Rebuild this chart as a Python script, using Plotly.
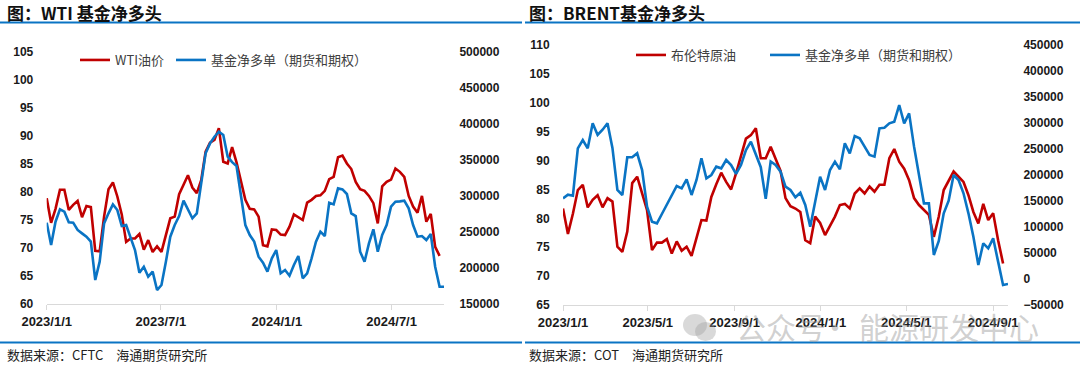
import pandas as pd
import plotly.graph_objects as go

# ---------------- data ----------------
dates = pd.date_range("2023-01-01", periods=91, freq="7D")

wti_price = [78.9, 74.5, 77.0, 80.4, 80.4, 76.8, 77.7, 78.4, 75.5, 77.5,
             77.3, 69.5, 69.4, 75.6, 80.5, 81.7, 79.2, 76.0, 71.1, 71.7,
             71.7, 72.5, 69.7, 71.4, 69.3, 70.3, 69.3, 72.3, 75.3, 75.6,
             79.6, 81.3, 83.0, 80.8, 79.8, 82.1, 87.2, 88.8, 89.3, 91.4,
             85.4, 85.1, 88.0, 85.3, 81.8, 78.6, 77.0, 76.9, 75.6, 70.5,
             70.3, 73.3, 73.2, 72.4, 72.3, 73.8, 76.0, 75.5, 75.0, 78.1,
             78.6, 79.3, 79.4, 80.2, 82.3, 82.7, 86.2, 86.5, 85.1, 84.1,
             81.8, 80.5, 80.2, 79.3, 78.0, 74.4, 81.0, 81.8, 82.2, 84.2,
             83.6, 82.7, 79.3, 77.4, 76.3, 79.3, 74.7, 76.1, 70.2, 68.6, None]

wti_net_long = [263000, 232000, 264300, 281500, 278200, 263400, 263000, 252800, 248100, 243500,
                236600, 183300, 208800, 262000, 275900, 288400, 280500, 258300, 259700, 243500,
                225000, 193500, 201800, 187900, 194900, 169400, 176400, 208800, 243500, 259700,
                272200, 293500, 280500, 269000, 275900, 317600, 359300, 373100, 382400, 389300,
                384700, 354600, 347000, 341700, 299100, 259700, 245800, 236600, 215700, 207400,
                194900, 213400, 225000, 192600, 197200, 189300, 204100, 216600, 185600, 192600,
                213400, 236600, 250500, 244400, 290700, 288400, 310600, 309200, 302800, 275900,
                272200, 222700, 208800, 234200, 253700, 222700, 245800, 259700, 285200, 292100,
                292500, 293500, 282900, 259700, 243500, 244400, 238900, 247200, 201800, 174000, 174000]

brent_price = [81.7, 77.3, 80.8, 84.9, 85.8, 81.9, 83.2, 84.0, 81.9, 83.5,
               82.9, 75.1, 74.2, 77.7, 86.1, 87.2, 84.3, 81.4, 74.5, 75.8,
               75.8, 76.4, 73.9, 76.0, 74.4, 75.1, 73.5, 76.5, 79.7, 79.6,
               83.7, 85.9, 87.9, 86.3, 85.0, 87.8, 91.0, 93.8, 94.4, 95.6,
               90.4, 90.4, 92.4, 90.4, 88.2, 83.5, 82.1, 81.7, 81.1, 76.2,
               75.7, 80.3, 79.2, 77.1, 78.6, 80.3, 82.3, 82.5, 81.7, 84.3,
               85.2, 84.3, 85.5, 84.6, 85.8, 85.8, 90.4, 92.0, 89.8, 88.6,
               86.6, 83.5, 82.3, 81.4, 80.6, 76.8, 80.3, 84.9, 86.6, 88.1,
               87.2, 86.3, 84.0, 81.1, 79.1, 82.5, 79.7, 80.9, 76.2, 72.2, None]

brent_net_long = [155100, 162000, 160000, 251300, 267300, 251300, 299400, 276900, 287000, 299400,
                  252000, 171200, 161600, 234000, 234000, 241700, 209600, 139100, 110300, 107100,
                  125000, 142300, 160000, 178900, 174400, 191700, 161600, 190400, 232100, 193600,
                  200000, 216000, 212800, 228900, 219200, 202000, 219200, 248100, 264100, 240000,
                  215000, 154000, 226000, 219200, 206400, 177600, 171200, 157100, 166000, 142300,
                  100700, 148700, 196800, 171200, 209600, 225700, 210900, 260900, 241700, 275000,
                  270500, 254500, 238500, 235300, 289800, 291000, 299400, 302600, 334600, 299400,
                  318600, 254500, 203200, 145500, 145500, 46200, 73000, 126300, 150700, 200000,
                  190400, 164800, 126300, 81400, 27000, 68600, 59000, 78200, 33400, -11500, -9600]

wti_ticks = ["2023-01-01", "2023-07-01", "2024-01-01", "2024-07-01"]
wti_ticktext = ["2023/1/1", "2023/7/1", "2024/1/1", "2024/7/1"]
brent_ticks = ["2023-01-01", "2023-05-01", "2023-09-01", "2024-01-01", "2024-05-01", "2024-09-01"]
brent_ticktext = ["2023/1/1", "2023/5/1", "2023/9/1", "2024/1/1", "2024/5/1", "2024/9/1"]

# ---------------- styling ----------------
W, H = 1080, 368
RED = "#C00000"
BLUE = "#0A74C4"
NUM_FONT = "Liberation Sans, Noto Sans CJK SC, sans-serif"
CJK_FONT = "Noto Sans CJK SC, Liberation Sans, sans-serif"

def px(x):
    return x / W

def py(y):
    return 1 - y / H

fig = go.Figure()

fig.add_trace(go.Scatter(x=dates, y=wti_price, name="WTI油价", mode="lines",
                         line=dict(color=RED, width=2.6), xaxis="x", yaxis="y",
                         legend="legend", showlegend=True))
fig.add_trace(go.Scatter(x=dates, y=wti_net_long, name="基金净多单（期货和期权）", mode="lines",
                         line=dict(color=BLUE, width=2.6), xaxis="x", yaxis="y2",
                         legend="legend2", showlegend=True))
fig.add_trace(go.Scatter(x=dates, y=brent_price, name="布伦特原油", mode="lines",
                         line=dict(color=RED, width=2.6), xaxis="x2", yaxis="y3",
                         legend="legend3", showlegend=True))
fig.add_trace(go.Scatter(x=dates, y=brent_net_long, name="基金净多单（期货和期权）", mode="lines",
                         line=dict(color=BLUE, width=2.6), xaxis="x2", yaxis="y4",
                         legend="legend4", showlegend=True))

tickfont = dict(family=NUM_FONT, size=12, color="#1a1a1a", weight="bold")
xtickfont = dict(family=NUM_FONT, size=13, color="#1a1a1a", weight="bold")

x_common = dict(type="date", showgrid=False, zeroline=False, showline=True, automargin=False,
                linecolor="#D9D9D9", linewidth=1, ticks="outside", tickcolor="#D9D9D9",
                ticklen=5, tickfont=xtickfont, range=["2023-01-01", "2024-09-22"])
yl_common = dict(showgrid=False, zeroline=False, showline=False, ticks="outside", automargin=False,
                 tickcolor="rgba(0,0,0,0)", ticklen=10, tickfont=tickfont)
yr_common = dict(showgrid=False, zeroline=False, showline=False, ticks="outside", automargin=False,
                 tickcolor="rgba(0,0,0,0)", ticklen=12, tickfont=tickfont)

wti_dom_y = [py(304), py(52)]
brent_dom_y = [py(305), py(45)]

fig.update_layout(
    width=W, height=H,
    margin=dict(l=0, r=0, t=0, b=0, pad=0, autoexpand=False),
    showlegend=True,
    paper_bgcolor="white", plot_bgcolor="white",
    xaxis=dict(domain=[px(46.7), px(444)], anchor="y", tickvals=wti_ticks,
               ticktext=wti_ticktext, **x_common),
    yaxis=dict(domain=wti_dom_y, anchor="x", range=[60, 105], dtick=5, **yl_common),
    yaxis2=dict(domain=wti_dom_y, anchor="x", overlaying="y", side="right",
                range=[150000, 500000], dtick=50000, tickformat="d", **yr_common),
    xaxis2=dict(domain=[px(563), px(1008)], anchor="y3", tickvals=brent_ticks,
                ticktext=brent_ticktext, **x_common),
    yaxis3=dict(domain=brent_dom_y, anchor="x2", range=[65, 110], dtick=5, **yl_common),
    yaxis4=dict(domain=brent_dom_y, anchor="x2", overlaying="y3", side="right",
                range=[-50000, 450000], dtick=50000, tickformat="d", **yr_common),
)

legend_font = dict(family=CJK_FONT, size=13, color="#404040")
def leg(xpix, ypix):
    return dict(x=px(xpix), y=py(ypix), xanchor="left", yanchor="middle", visible=True,
                orientation="h", bgcolor="rgba(0,0,0,0)", borderwidth=0,
                font=legend_font)

fig.update_layout(
    legend=leg(75, 60), legend2=leg(171, 60),
    legend3=leg(631, 55), legend4=leg(765, 55),
)

# separator lines
shapes = []
for x0, x1 in [(0, 522), (525, 1080)]:
    shapes.append(dict(type="line", xref="paper", yref="paper", x0=px(x0), x1=px(x1),
                       y0=py(22.5), y1=py(22.5), line=dict(color=BLUE, width=2.2)))
    shapes.append(dict(type="line", xref="paper", yref="paper", x0=px(x0), x1=px(x1),
                       y0=py(342.5), y1=py(342.5), line=dict(color=BLUE, width=2.2)))
# watermark icon
shapes.append(dict(type="circle", xref="paper", yref="paper", x0=px(683), x1=px(707),
                   y0=py(336), y1=py(314), fillcolor="rgba(160,160,160,0.4)", line=dict(width=0)))
shapes.append(dict(type="circle", xref="paper", yref="paper", x0=px(695), x1=px(716),
                   y0=py(341), y1=py(322), fillcolor="rgba(160,160,160,0.4)", line=dict(width=0)))
fig.update_layout(shapes=shapes)

title_font = dict(family=CJK_FONT, size=17, color="#111111", weight="bold")
src_font = dict(family=CJK_FONT, size=13, color="#222222")
wm_font = dict(family=CJK_FONT, size=30, color="rgba(150,150,150,0.45)")
annotations = [
    dict(text="图：WTI 基金净多头", x=px(5), y=py(13), xanchor="left", yanchor="middle",
         font=title_font),
    dict(text="图：BRENT基金净多头", x=px(527), y=py(13), xanchor="left", yanchor="middle",
         font=title_font),
    dict(text="数据来源：CFTC　海通期货研究所", x=px(5), y=py(354), xanchor="left",
         yanchor="middle", font=src_font),
    dict(text="数据来源：COT　海通期货研究所", x=px(527), y=py(354), xanchor="left",
         yanchor="middle", font=src_font),
    dict(text="公众号", x=px(734), y=py(326), xanchor="left", yanchor="middle", font=wm_font),
    dict(text="·", x=px(835), y=py(326), xanchor="center", yanchor="middle", font=wm_font),
    dict(text="能源研发中心", x=px(857), y=py(326), xanchor="left", yanchor="middle", font=wm_font),
]
for a in annotations:
    a.update(xref="paper", yref="paper", showarrow=False)
fig.update_layout(annotations=annotations)

fig.write_html("out.html", config={"displayModeBar": False},
               post_script="document.body.style.margin='0';")
